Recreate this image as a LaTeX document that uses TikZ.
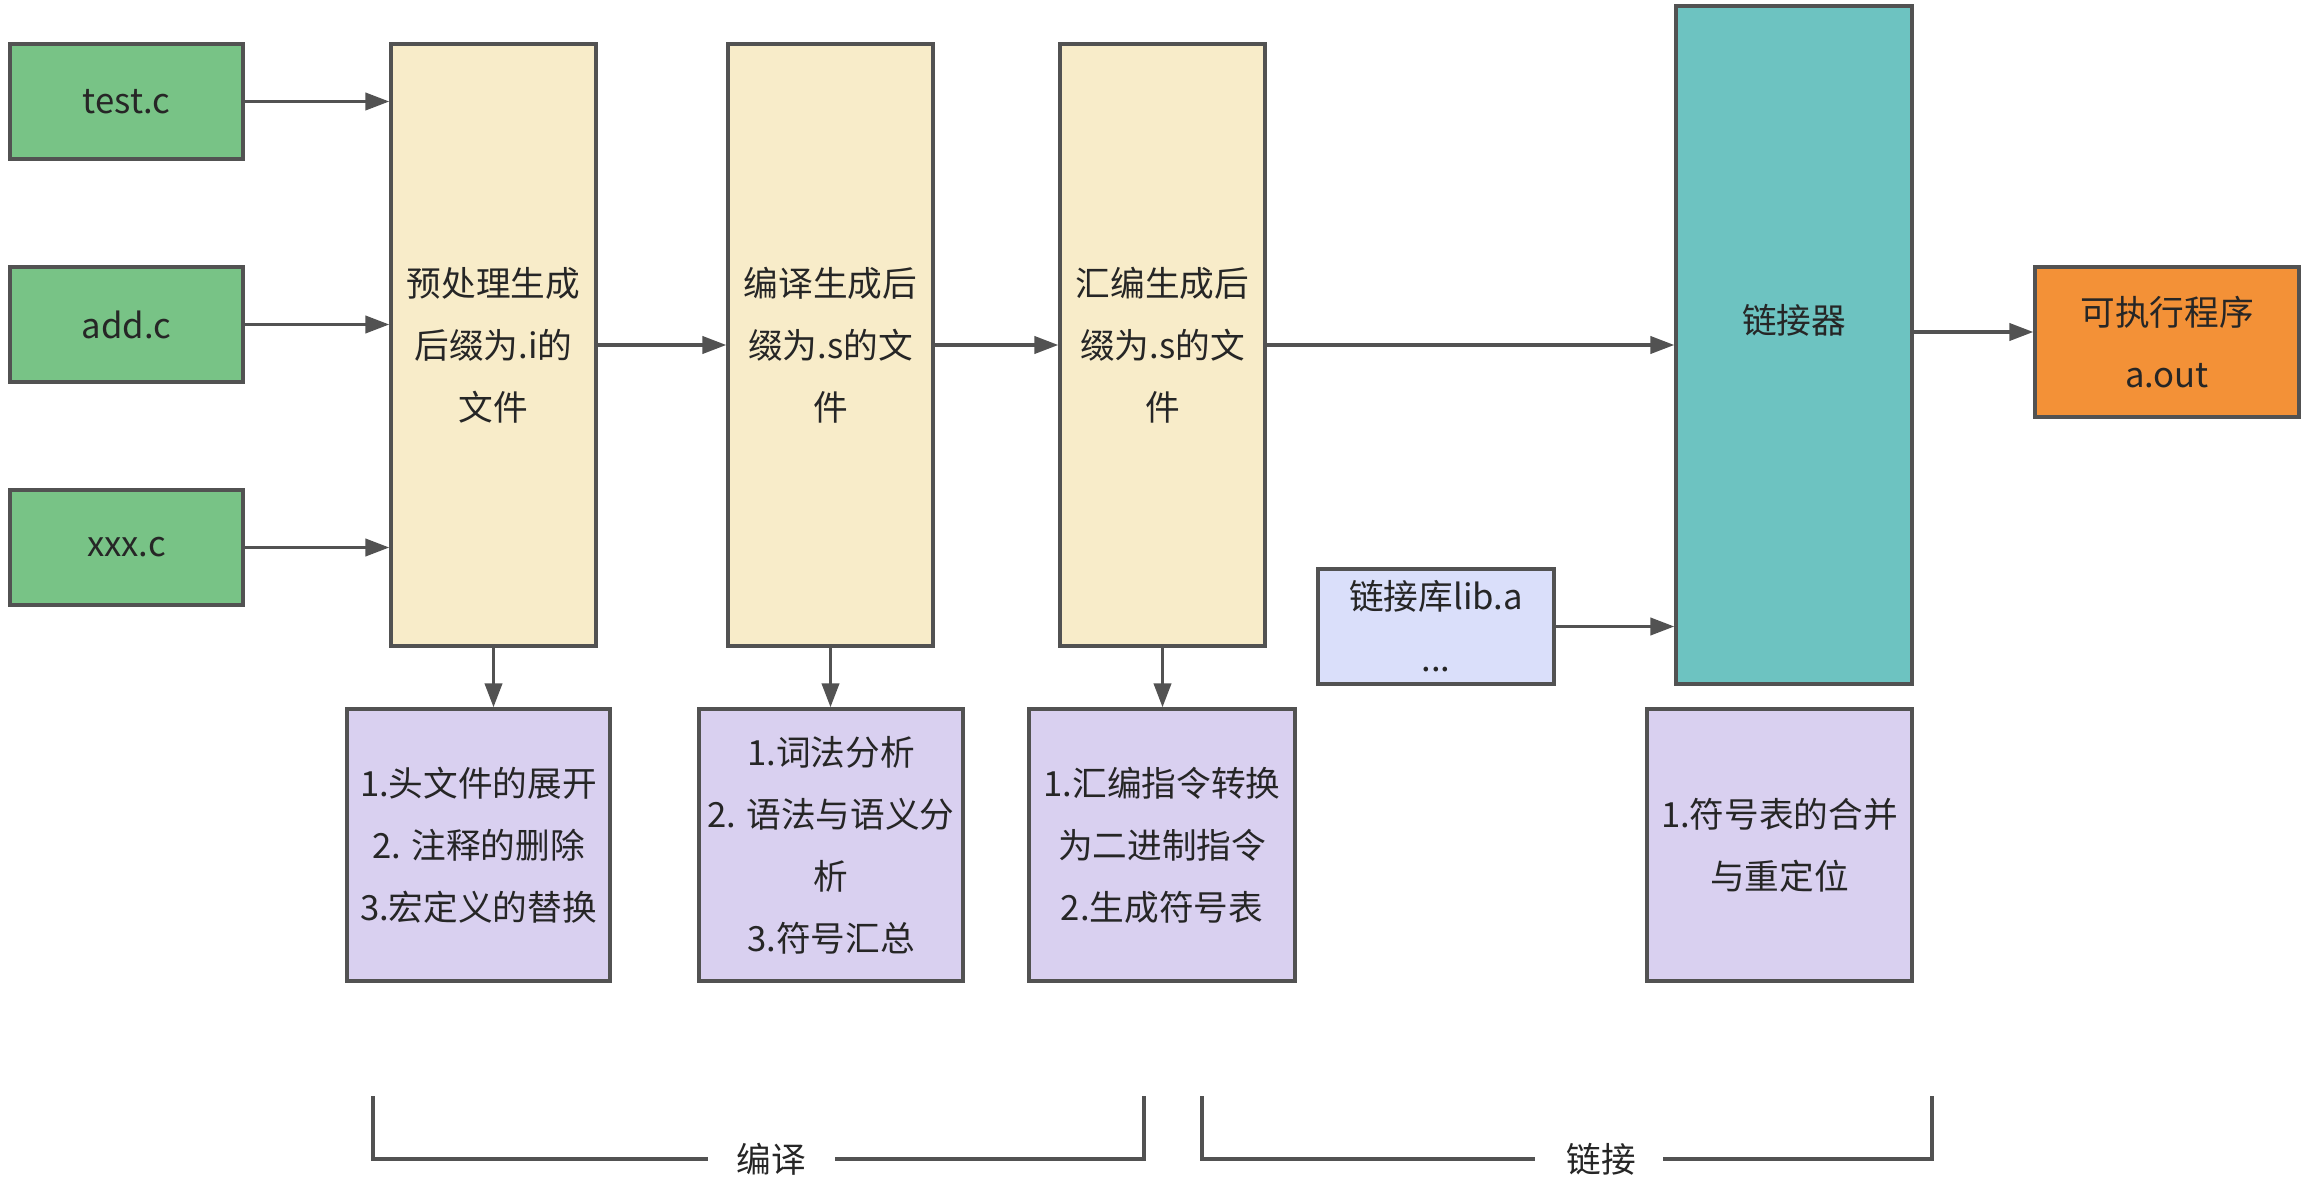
\documentclass[tikz,border=0pt]{standalone}
\usepackage{fontspec}
\setmainfont{Noto Sans CJK SC}
\usetikzlibrary{arrows.meta}
\definecolor{cgreen}{HTML}{78C386}
\definecolor{ccream}{HTML}{F8ECC9}
\definecolor{cteal}{HTML}{6DC3C1}
\definecolor{corange}{HTML}{F39137}
\definecolor{cblue}{HTML}{DADFFA}
\definecolor{cpurple}{HTML}{D9D0F0}
\definecolor{cborder}{HTML}{525252}
\definecolor{ctext}{HTML}{262626}
\tikzset{
  box/.style={draw=cborder, line width=2.6pt, inner sep=0pt, align=center, text=ctext,
    font=\fontsize{26pt}{46.5pt}\selectfont},
  sz/.style 2 args={minimum width=#1*0.75pt, minimum height=#2*0.75pt},
  greenbox/.style={box, fill=cgreen},
  creambox/.style={box, fill=ccream},
  tealbox/.style={box, fill=cteal},
  orangebox/.style={box, fill=corange},
  bluebox/.style={box, fill=cblue},
  purplebox/.style={box, fill=cpurple},
  arr/.style={draw=cborder, line width=2.4pt, -{Triangle[length=18pt,width=13pt]}},
  brk/.style={draw=cborder, line width=2.6pt},
  lbl/.style={text=ctext, font=\fontsize{26pt}{46.5pt}\selectfont, inner sep=0pt}
}
\begin{document}
\begin{tikzpicture}[x=0.75pt,y=-0.75pt]
\useasboundingbox (0,0) rectangle (2312,1201);
% source files
\node[greenbox, sz={233}{115}] (test) at (126.5,101.5) {test.c};
\node[greenbox, sz={233}{115}] (add) at (126.5,324.5) {add.c};
\node[greenbox, sz={233}{115}] (xxx) at (126.5,547.5) {xxx.c};
% stages
\node[creambox, sz={205}{602}] (pre) at (493.5,345) {预处理生成\\后缀为.i的\\文件};
\node[creambox, sz={205}{602}] (comp) at (830.5,345) {编译生成后\\缀为.s的文\\件};
\node[creambox, sz={205}{602}] (asm) at (1162.5,345) {汇编生成后\\缀为.s的文\\件};
\node[tealbox, sz={236}{678}] (link) at (1794,345) {};
\node[lbl] (linktxt) at (1794,320) {链接器};
\node[orangebox, sz={264}{150}] (exe) at (2167,342) {可执行程序\\a.out};
\node[bluebox, sz={236}{115}] (lib) at (1436,626.5) {链接库lib.a\\...};
% descriptions
\node[purplebox, sz={263}{272}] (d1) at (478.5,845) {1.头文件的展开\\2. 注释的删除\\3.宏定义的替换};
\node[purplebox, sz={264}{272}] (d2) at (831,845) {1.词法分析\\2. 语法与语义分\\析\\3.符号汇总};
\node[purplebox, sz={266}{272}] (d3) at (1162,845) {1.汇编指令转换\\为二进制指令\\2.生成符号表};
\node[purplebox, sz={265}{272}] (d4) at (1779.5,845) {1.符号表的合并\\与重定位};
% arrows
\draw[arr] (test.east) -- (test.east -| pre.west);
\draw[arr] (add.east) -- (add.east -| pre.west);
\draw[arr] (xxx.east) -- (xxx.east -| pre.west);
\draw[arr] (pre.east) -- (comp.west);
\draw[arr] (comp.east) -- (asm.west);
\draw[arr] (asm.east) -- (asm.east -| link.west);
\draw[arr] (link.east |- 0,332) -- (exe.west |- 0,332);
\draw[arr] (lib.east) -- (lib.east -| link.west);
\draw[arr] (pre.south) -- (pre.south |- d1.north);
\draw[arr] (comp.south) -- (comp.south |- d2.north);
\draw[arr] (asm.south) -- (asm.south |- d3.north);
% brackets
\coordinate (c1a) at (373,1096);
\coordinate (c1b) at (373,1159);
\coordinate (c1c) at (708,1159);
\coordinate (c1d) at (835,1159);
\coordinate (c1e) at (1144,1159);
\coordinate (c1f) at (1144,1096);
\node[lbl] (bianyi) at (771,1159) {编译};
\draw[brk] (c1a) -- (c1b) -- (c1c);
\draw[brk] (c1d) -- (c1e) -- (c1f);
\coordinate (c2a) at (1202,1096);
\coordinate (c2b) at (1202,1159);
\coordinate (c2c) at (1535,1159);
\coordinate (c2d) at (1663,1159);
\coordinate (c2e) at (1932,1159);
\coordinate (c2f) at (1932,1096);
\node[lbl] (lianjie) at (1601,1159) {链接};
\draw[brk] (c2a) -- (c2b) -- (c2c);
\draw[brk] (c2d) -- (c2e) -- (c2f);
\end{tikzpicture}
\end{document}
